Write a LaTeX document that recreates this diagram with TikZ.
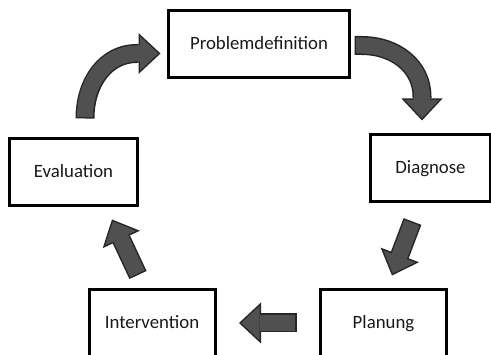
\documentclass[tikz,border=0pt]{standalone}
\usepackage{fontspec}
\setmainfont{Carlito}
\usetikzlibrary{arrows.meta,calc}
\definecolor{arrowgray}{RGB}{80,80,80}
\definecolor{arrowline}{RGB}{38,38,38}
\tikzset{
  box/.style={draw=black, line width=3pt, minimum width=126pt, minimum height=67pt,
    inner sep=0pt, text height=12.5pt, text depth=0.5pt, text=black!90,
    font=\fontsize{18.8}{22}\selectfont},
  flow/.style={draw=arrowgray, line width=16pt, shorten <=1.5pt, shorten >=2.2pt,
    -{Triangle[length=18.3pt, width=34.1pt, line width=0pt]},
    preaction={draw=arrowline, line width=19pt, shorten <=0pt, shorten >=0pt,
      -{Triangle[length=22pt, width=41pt, line width=0pt]}}}
}
\begin{document}
\begin{tikzpicture}[x=1pt, y=1pt]
            \useasboundingbox (0,0) rectangle (491,-355);
            \clip (0,0) rectangle (491,-355);

            \node[box, minimum width=181pt] (prob) at (259,-44) {Problemdefinition};
            \node[box, minimum width=120pt] (diag) at (430.5,-168) {Diagnose};
            \node[box] (plan) at (383.5,-323) {Planung};
            \node[box] (interv) at (152,-323) {Intervention};
            \node[box, minimum width=128pt] (eval) at (73.5,-172) {Evaluation};

            % curved arrows at the top
            \draw[flow] ($(eval.north)+(11.5,18.5)$)
                .. controls ($(eval.north)+(11.5,55.5)$) and ($(prob.west)+(-60.5,-9.5)$)
                .. ($(prob.west)+(-30.5,-9.5)$) -- ($(prob.west)+(-6.5,-9.5)$);
            \draw[flow] ($(prob.east)+(3.5,-1.5)$) -- ($(prob.east)+(10.5,-1.5)$)
                .. controls ($(prob.east)+(44.5,-1.5)$) and ($(diag.north)+(-8.5,66.5)$)
                .. ($(diag.north)+(-8.5,36.5)$) -- ($(diag.north)+(-8.5,12.5)$);

            % straight arrows
            \draw[flow] ($(diag.south)+(-18,-18.5)$) -- ($(plan.north)+(8.5,12.5)$);
            \draw[flow] ([xshift=-22.5pt]plan.west) -- ([xshift=22.5pt]interv.east);
            \draw[flow] ($(interv.north)+(-14,13)$) -- ($(eval.south)+(38.5,-12.5)$);
        \end{tikzpicture}
\end{document}
